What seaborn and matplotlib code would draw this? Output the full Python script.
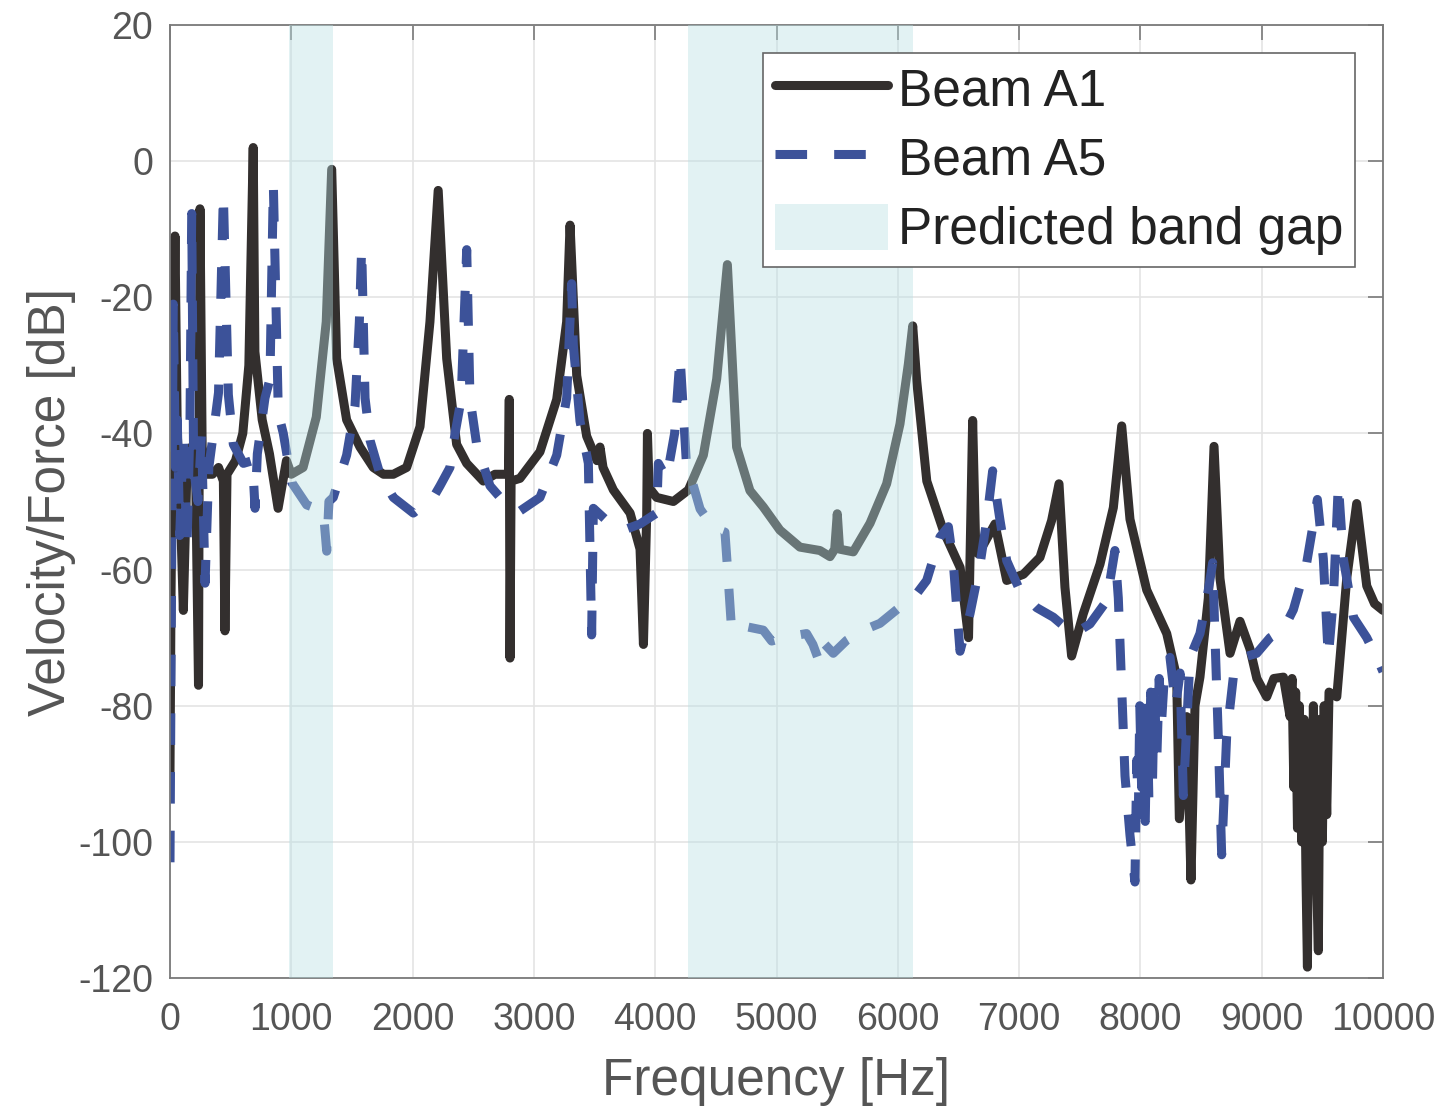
import pandas as pd
import seaborn as sns
import matplotlib.pyplot as plt
from matplotlib.patches import Patch

# Beam A1 (black, solid)
freq_a1 = [0, 8, 20, 41, 60, 80, 110, 140, 175, 210, 235, 247, 265, 300, 350, 400, 440, 453, 470,
           540, 600, 650, 686, 700, 760, 820, 891, 960, 1000, 1097, 1206, 1288, 1333, 1374, 1456,
           1566, 1676, 1760, 1841, 1951, 2061, 2143, 2211, 2281, 2363, 2446, 2583, 2679, 2790,
           2797, 2803, 2812, 2885, 3050, 3188, 3270, 3298, 3353, 3435, 3520, 3545, 3570, 3655,
           3793, 3875, 3903, 3930, 3936, 3950, 4012, 4150, 4274, 4397, 4507, 4595, 4671, 4781,
           4891, 5028, 5193, 5358, 5441, 5480, 5501, 5520, 5633, 5771, 5908, 6018, 6087, 6123,
           6156, 6239, 6376, 6514, 6583, 6617, 6640, 6664, 6801, 6898, 7035, 7172, 7268, 7329,
           7378, 7433, 7529, 7667, 7777, 7846, 7914, 8052, 8217, 8299, 8321, 8382, 8417, 8450,
           8491, 8560, 8607, 8656, 8739, 8821, 8904, 8960, 9041, 9100, 9179, 9234, 9250, 9265,
           9280, 9295, 9310, 9330, 9350, 9365, 9377, 9390, 9410, 9426, 9445, 9467, 9480, 9500,
           9515, 9536, 9555, 9619, 9701, 9783, 9866, 9930, 10000]
db_a1 = [-90, -65, -40, -11, -40, -48, -66, -45, -42, -44, -77, -7, -42, -46, -46, -45, -47, -69, -46,
         -44, -40, -30, 2, -28, -38, -43, -51, -44, -46, -45, -37.6, -23.6, -1.2, -29, -38,
         -42, -45, -46, -46, -45, -39, -23.6, -4.3, -29, -41.6, -44.4, -47, -46, -46,
         -35, -73, -47, -46.6, -42.7, -35, -23.6, -9.4, -31.5, -40.4, -44, -42, -45, -48.3,
         -51.7, -57, -71, -52, -40, -48, -49.4, -50, -48.3, -43.2, -32, -15.2, -42, -48.4,
         -50.8, -54.2, -56.7, -57.2, -58.1, -57, -51.8, -57, -57.4, -53.2, -47.4, -38.6, -29.8, -24.2,
         -32.3, -47, -54.3, -59.7, -70, -38.1, -55, -57.7, -53.3, -61.6, -60.7, -58.2, -52.8, -47.4,
         -62.6, -72.7, -66.5, -59.2, -50.9, -38.9, -52.6, -63, -69.4, -75.8, -96.6, -81.6, -105.6, -80,
         -75.8, -64.2, -41.9, -61.3, -72.3, -67.6, -71.7, -76, -78.7, -76, -75.8, -81.6, -76, -92,
         -78, -98, -80, -100, -82, -105, -118.4, -84, -104, -80, -100, -116, -82, -100,
         -80, -96, -78, -78.7, -61.3, -50.3, -62.4, -65, -66]

# Beam A5 (blue, dashed)
freq_a5 = [0, 10, 27, 45, 60, 80, 110, 140, 165, 179, 195, 230, 260, 289, 320, 357, 400, 440, 481,
           522, 605, 680, 701, 720, 783, 824, 852, 893, 934, 1003, 1127, 1264, 1292, 1310, 1346,
           1456, 1525, 1561, 1580, 1608, 1649, 1731, 1841, 2006, 2171, 2226, 2308, 2350, 2400,
           2446, 2473, 2528, 2638, 2775, 2885, 3050, 3188, 3270, 3311, 3325, 3380, 3449, 3476,
           3490, 3600, 3738, 3875, 4012, 4026, 4094, 4160, 4205, 4259, 4315, 4370, 4480, 4575,
           4603, 4630, 4754, 4891, 4960, 5083, 5248, 5300, 5358, 5400, 5468, 5578, 5716, 5853,
           6018, 6128, 6238, 6348, 6417, 6458, 6513, 6595, 6678, 6733, 6782, 6843, 6898, 7007,
           7145, 7282, 7447, 7584, 7722, 7790, 7818, 7846, 7873, 7914, 7955, 7970, 7983, 7995,
           8010, 8025, 8040, 8055, 8070, 8085, 8100, 8115, 8135, 8155, 8176, 8200, 8244, 8290,
           8327, 8354, 8409, 8491, 8560, 8596, 8615, 8642, 8670, 8711, 8766, 8849, 8959, 9069,
           9179, 9261, 9371, 9459, 9508, 9549, 9591, 9632, 9673, 9756, 9866, 9976, 10000]
db_a5 = [-103, -70, -21, -45, -38, -55, -40, -57, -38, -7.7, -45, -50, -40, -62, -45, -40, -34, -4.9, -34.3,
         -41.6, -44.4, -44, -51, -43, -34.8, -32, -3.5, -37, -40, -47.2, -50.5, -51.4, -57.3, -50, -49.4,
         -43.2, -36, -23.6, -12.7, -34.8, -41, -46, -49.4, -51.7, -49.4, -47.7, -45, -40, -35,
         -13, -34.8, -41.6, -47.7, -50.5, -51.4, -49.4, -43.2, -34.8, -18, -27, -38.2, -44.4, -69.6,
         -51, -52.8, -54.2, -53.3, -51.7, -44.4, -46.6, -40, -28.7, -44.9, -47.7, -51.1, -53.9, -54.5,
         -61.6, -68.9, -68.4, -68.9, -70.5, -69.9, -69.4, -71, -73.8, -71, -72.3, -70.4, -68.9, -67.9,
         -65.5, -64.2, -61.6, -55.2, -53.7, -59.1, -72, -66.5, -59.2, -52.8, -45.5, -52.8, -58.7, -63.1,
         -65.6, -67, -69.5, -68, -64.6, -57.2, -64.2, -77.5, -90.3, -99, -105.9, -88, -96, -80,
         -92, -79, -97, -80, -94, -78, -91, -77, -88, -76, -82, -75, -72.9, -80,
         -75.2, -93.2, -72.9, -69.4, -63, -59, -70, -84.5, -101.9, -84.5, -75.8, -72.9, -72.3, -70,
         -68.8, -65.9, -59, -49.7, -58.4, -72.9, -64.2, -47.4, -58.4, -67, -70, -74, -75]

# predicted band gaps [Hz]
band_gaps = [(981, 1344), (4270, 6125)]

x_ticks = [0, 1000, 2000, 3000, 4000, 5000, 6000, 7000, 8000, 9000, 10000]
y_ticks = [20, 0, -20, -40, -60, -80, -100, -120]

black = '#332f2e'
blue = '#3c5299'
gap_color = '#b8e0e3'
text_gray = '#555555'
axis_gray = '#7a7a7a'

sns.set_theme(style='white')
plt.rcParams['font.family'] = ['Liberation Sans', 'DejaVu Sans']
plt.rcParams['axes.unicode_minus'] = False

df_a1 = pd.DataFrame({'Frequency': freq_a1, 'dB': db_a1})
df_a5 = pd.DataFrame({'Frequency': freq_a5, 'dB': db_a5})

fig = plt.figure(figsize=(14.45, 11.13), dpi=100)
ax = fig.add_axes([170 / 1445, 1 - 978 / 1113, (1383 - 170) / 1445, (978 - 25) / 1113])

sns.lineplot(data=df_a1, x='Frequency', y='dB', ax=ax, color=black, linewidth=6.5,
             estimator=None, sort=False, zorder=2)
sns.lineplot(data=df_a5, x='Frequency', y='dB', ax=ax, color=blue, linewidth=6.5,
             estimator=None, sort=False, zorder=2, linestyle=(0, (3.5, 3.0)),
             dash_capstyle='butt')

for lo, hi in band_gaps:
    ax.axvspan(lo, hi, color=gap_color, alpha=0.4, lw=0, zorder=3)

ax.set_xlim(0, 10000)
ax.set_ylim(-120, 20)
ax.set_xticks(x_ticks)
ax.set_yticks(y_ticks)
ax.grid(True, color='#e4e4e4', linewidth=1.2, zorder=0)
ax.set_axisbelow(True)
for s in ax.spines.values():
    s.set_color(axis_gray)
    s.set_linewidth(1.3)
ax.tick_params(direction='in', length=11, width=1.2, top=True, right=True,
               labelsize=27, colors=axis_gray, labelcolor=text_gray)
ax.tick_params(axis='x', pad=17)
ax.tick_params(axis='y', pad=12)

ax.set_xlabel('Frequency [Hz]', fontsize=37, color=text_gray, labelpad=14)
ax.set_ylabel('Velocity/Force [dB]', fontsize=37, color=text_gray, labelpad=2)

handles = [ax.lines[0], ax.lines[1],
           Patch(facecolor=gap_color, alpha=0.4, edgecolor='none')]
leg = ax.legend(handles, ['Beam A1', 'Beam A5', 'Predicted band gap'], loc='upper right',
                fontsize=37, frameon=True, fancybox=False, framealpha=1,
                edgecolor='#666666', handlelength=2.2, handleheight=1.0, handletextpad=0.2,
                labelspacing=0.35, borderpad=0.22, borderaxespad=0.55)
leg.get_frame().set_linewidth(1.2)
for t in leg.get_texts():
    t.set_color('#222222')

fig.savefig('out.png', dpi=100)
